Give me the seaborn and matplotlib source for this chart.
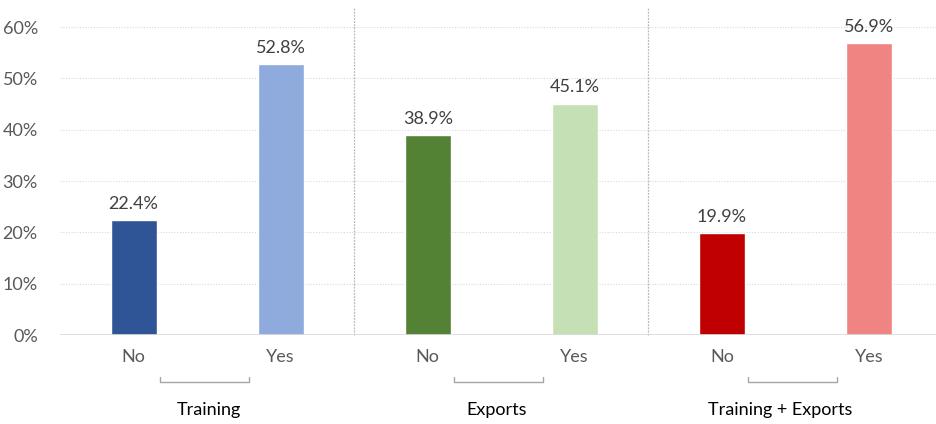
import matplotlib
matplotlib.use("Agg")
import matplotlib.pyplot as plt
import seaborn as sns
import pandas as pd

groups = ["Training", "Exports", "Training + Exports"]
answers = ["No", "Yes", "No", "Yes", "No", "Yes"]
values = [22.4, 52.8, 38.9, 45.1, 19.9, 56.9]
colors = ["#2F5597", "#8FAADC", "#548235", "#C5E0B4", "#C00000", "#F08482"]
yticks = [0, 10, 20, 30, 40, 50, 60]

sns.set_theme(style="white")
plt.rcParams['font.family'] = ['Lato', 'DejaVu Sans']

df = pd.DataFrame({"pos": [str(i) for i in range(len(values))], "value": values})

fig = plt.figure(figsize=(9.36, 4.24), dpi=100)
ax = fig.add_axes([60/936, 1-335/424, 1-60/936, (335-6.5)/424])

sns.barplot(data=df, x="pos", y="value", hue="pos", palette=colors, legend=False,
            width=46/147, ax=ax, saturation=1)

ax.set_ylim(0, 64)
ax.set_xlim(-0.5, 5.456)
ax.set_yticks(yticks)
ax.set_yticklabels([f"{t}%" for t in yticks], color="#595959", fontsize=13)
for t in yticks[1:]:
    ax.axhline(t, color="#D9D9D9", lw=0.8, ls=(0, (1, 1.5)), zorder=0)
ax.axhline(0, color="#D9D9D9", lw=1.2, zorder=3)
for s in ax.spines.values():
    s.set_visible(False)
ax.tick_params(axis='both', length=0)
ax.tick_params(axis='y', pad=16)
ax.set_xticks(range(len(answers)))
ax.set_xticklabels(answers, color="#595959", fontsize=13)
ax.tick_params(axis='x', pad=10)
ax.set_xlabel("")
ax.set_ylabel("")

for i, v in enumerate(values):
    ax.text(i, v + 1.6, f"{v:.1f}%", ha="center", va="bottom", color="#404040", fontsize=13)

for xs in [1.5, 3.5]:
    ax.plot([xs, xs], [0, 64], color="#B8B8B8", lw=0.9, ls=(0, (1.5, 1)), clip_on=False, zorder=1)

trans = ax.get_xaxis_transform()
label_offsets = [0.51, 0.47, 0.40]
for g, name in enumerate(groups):
    c = 2 * g + 0.48
    x0, x1 = c - 0.303, c + 0.303
    yb = -(382 - 335) / (335 - 6.5)
    yt = yb + 5 / (335 - 6.5)
    ax.plot([x0, x0, x1, x1], [yt, yb, yb, yt], transform=trans, color="#A6A6A6",
            lw=1.0, clip_on=False)
    ax.text(2 * g + label_offsets[g], -(410 - 335) / (335 - 6.5), name, transform=trans,
            ha="center", va="center", fontsize=13, color="black")

fig.savefig("out.png", dpi=100)
